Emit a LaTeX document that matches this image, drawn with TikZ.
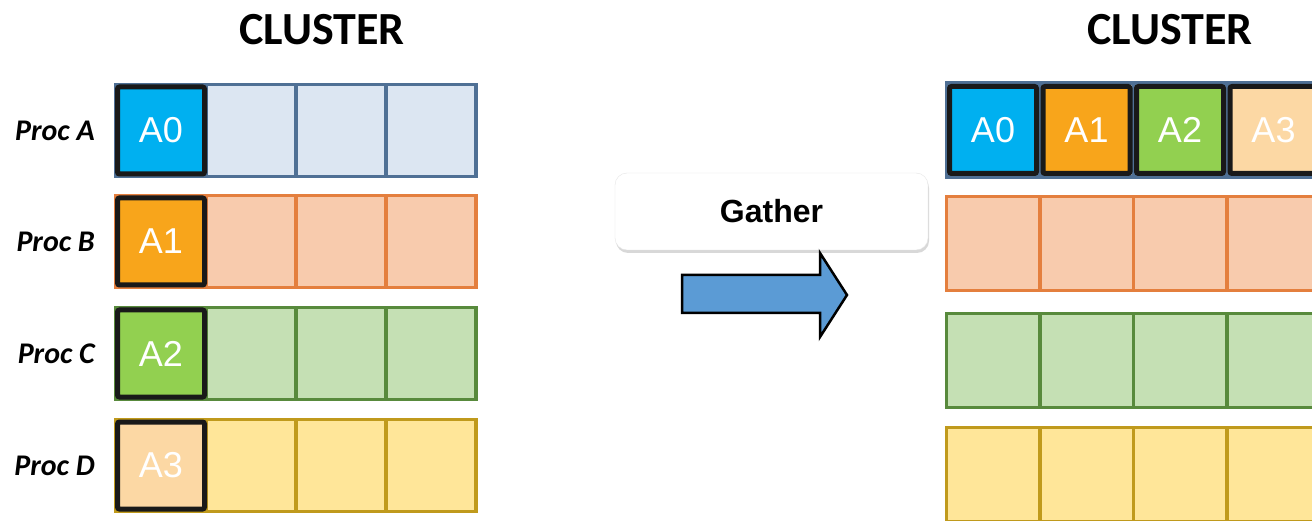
\documentclass[tikz,border=0pt]{standalone}
\usepackage{fontspec}
\setmainfont{Liberation Sans}
\newfontfamily\calibri{Carlito}
\usetikzlibrary{positioning,shadows}

\definecolor{fillA}{HTML}{DCE6F2}
\definecolor{bordA}{HTML}{4F7095}
\definecolor{fillB}{HTML}{F8CBAD}
\definecolor{bordB}{HTML}{E47F3E}
\definecolor{fillC}{HTML}{C5E0B4}
\definecolor{bordC}{HTML}{588A3C}
\definecolor{fillD}{HTML}{FFE699}
\definecolor{bordD}{HTML}{C09A1C}
\definecolor{colA0}{HTML}{00B0F0}
\definecolor{colA1}{HTML}{F8A51B}
\definecolor{colA2}{HTML}{92D050}
\definecolor{colA3}{HTML}{FCD8A4}
\definecolor{arrowblue}{HTML}{5B9BD5}

\tikzset{
    cell/.style={line width=3.5pt, inner sep=0pt, outer sep=0pt,
        minimum width=90pt, minimum height=92pt},
    bigcell/.style={cell, minimum width=93.5pt, minimum height=94pt},
    rowa/.style={draw=bordA, fill=fillA},
    rowb/.style={draw=bordB, fill=fillB},
    rowc/.style={draw=bordC, fill=fillC},
    rowd/.style={draw=bordD, fill=fillD},
    datum/.style={draw=black!90, line width=5pt, rounded corners=2pt,
        minimum width=87pt, minimum height=87pt, inner sep=0pt,
        text=white, font=\fontsize{36}{40}\selectfont},
    proc/.style={inner sep=0pt, font=\calibri\bfseries\itshape\fontsize{30}{32}\selectfont},
    title/.style={font=\calibri\bfseries\fontsize{46}{50}\selectfont},
}

\begin{document}
\begin{tikzpicture}[x=1pt,y=-1pt]
    \clip (0,0) rectangle (1312,521);
    \fill[white] (0,0) rectangle (1312,521);

    % left cluster
    \node[cell,rowa] (a1) at (161,130.5) {};
    \node[cell,rowa,right=0pt of a1] (a2) {};
    \node[cell,rowa,right=0pt of a2] (a3) {};
    \node[cell,rowa,right=0pt of a3] (a4) {};
    \node[cell,rowb,below=19pt of a1] (b1) {};
    \node[cell,rowb,right=0pt of b1] (b2) {};
    \node[cell,rowb,right=0pt of b2] (b3) {};
    \node[cell,rowb,right=0pt of b3] (b4) {};
    \node[cell,rowc,below=20pt of b1] (c1) {};
    \node[cell,rowc,right=0pt of c1] (c2) {};
    \node[cell,rowc,right=0pt of c2] (c3) {};
    \node[cell,rowc,right=0pt of c3] (c4) {};
    \node[cell,rowd,below=20pt of c1] (d1) {};
    \node[cell,rowd,right=0pt of d1] (d2) {};
    \node[cell,rowd,right=0pt of d2] (d3) {};
    \node[cell,rowd,right=0pt of d3] (d4) {};

    \node[datum,fill=colA0] (la0) at (a1) {A0};
    \node[datum,fill=colA1] (la1) at (b1) {A1};
    \node[datum,fill=colA2] (la2) at (c1) {A2};
    \node[datum,fill=colA3] (la3) at (d1) {A3};

    \node[proc,left=21pt of a1] (pa) {Proc A};
    \node[proc,left=21pt of b1] (pb) {Proc B};
    \node[proc,left=21pt of c1] (pc) {Proc C};
    \node[proc,left=21pt of d1] (pd) {Proc D};

    \node[title] (lcluster) at (322,30) {CLUSTER};

    % gather step
    \node[fill=white, draw=black!10, rounded corners=12pt,
        minimum width=313pt, minimum height=77pt,
        drop shadow={shadow xshift=1pt, shadow yshift=-3pt, opacity=0.3},
        font=\bfseries\fontsize{32}{36}\selectfont] (gather) at (771.5,211.5) {Gather};
    \draw[fill=arrowblue, line width=2.5pt, line join=miter]
        (682,275) -- (820,275) -- (820,253) -- (847,295) -- (820,337)
        -- (820,313) -- (682,313) -- cycle;

    % right cluster
    \node[bigcell,rowa] (ra1) at (993,130) {};
    \node[bigcell,rowa,right=0pt of ra1] (ra2) {};
    \node[bigcell,rowa,right=0pt of ra2] (ra3) {};
    \node[bigcell,rowa,right=0pt of ra3] (ra4) {};
    \node[bigcell,rowb,below=19.5pt of ra1] (rb1) {};
    \node[bigcell,rowb,right=0pt of rb1] (rb2) {};
    \node[bigcell,rowb,right=0pt of rb2] (rb3) {};
    \node[bigcell,rowb,right=0pt of rb3] (rb4) {};
    \node[bigcell,rowc,below=23pt of rb1] (rc1) {};
    \node[bigcell,rowc,right=0pt of rc1] (rc2) {};
    \node[bigcell,rowc,right=0pt of rc2] (rc3) {};
    \node[bigcell,rowc,right=0pt of rc3] (rc4) {};
    \node[bigcell,rowd,below=20pt of rc1] (rd1) {};
    \node[bigcell,rowd,right=0pt of rd1] (rd2) {};
    \node[bigcell,rowd,right=0pt of rd2] (rd3) {};
    \node[bigcell,rowd,right=0pt of rd3] (rd4) {};

    \node[datum,fill=colA0] (ra0) at (ra1) {A0};
    \node[datum,fill=colA1] (rga1) at (ra2) {A1};
    \node[datum,fill=colA2] (rga2) at (ra3) {A2};
    \node[datum,fill=colA3] (rga3) at (ra4) {A3};

    \node[title] (rcluster) at (1170,30) {CLUSTER};
\end{tikzpicture}
\end{document}
